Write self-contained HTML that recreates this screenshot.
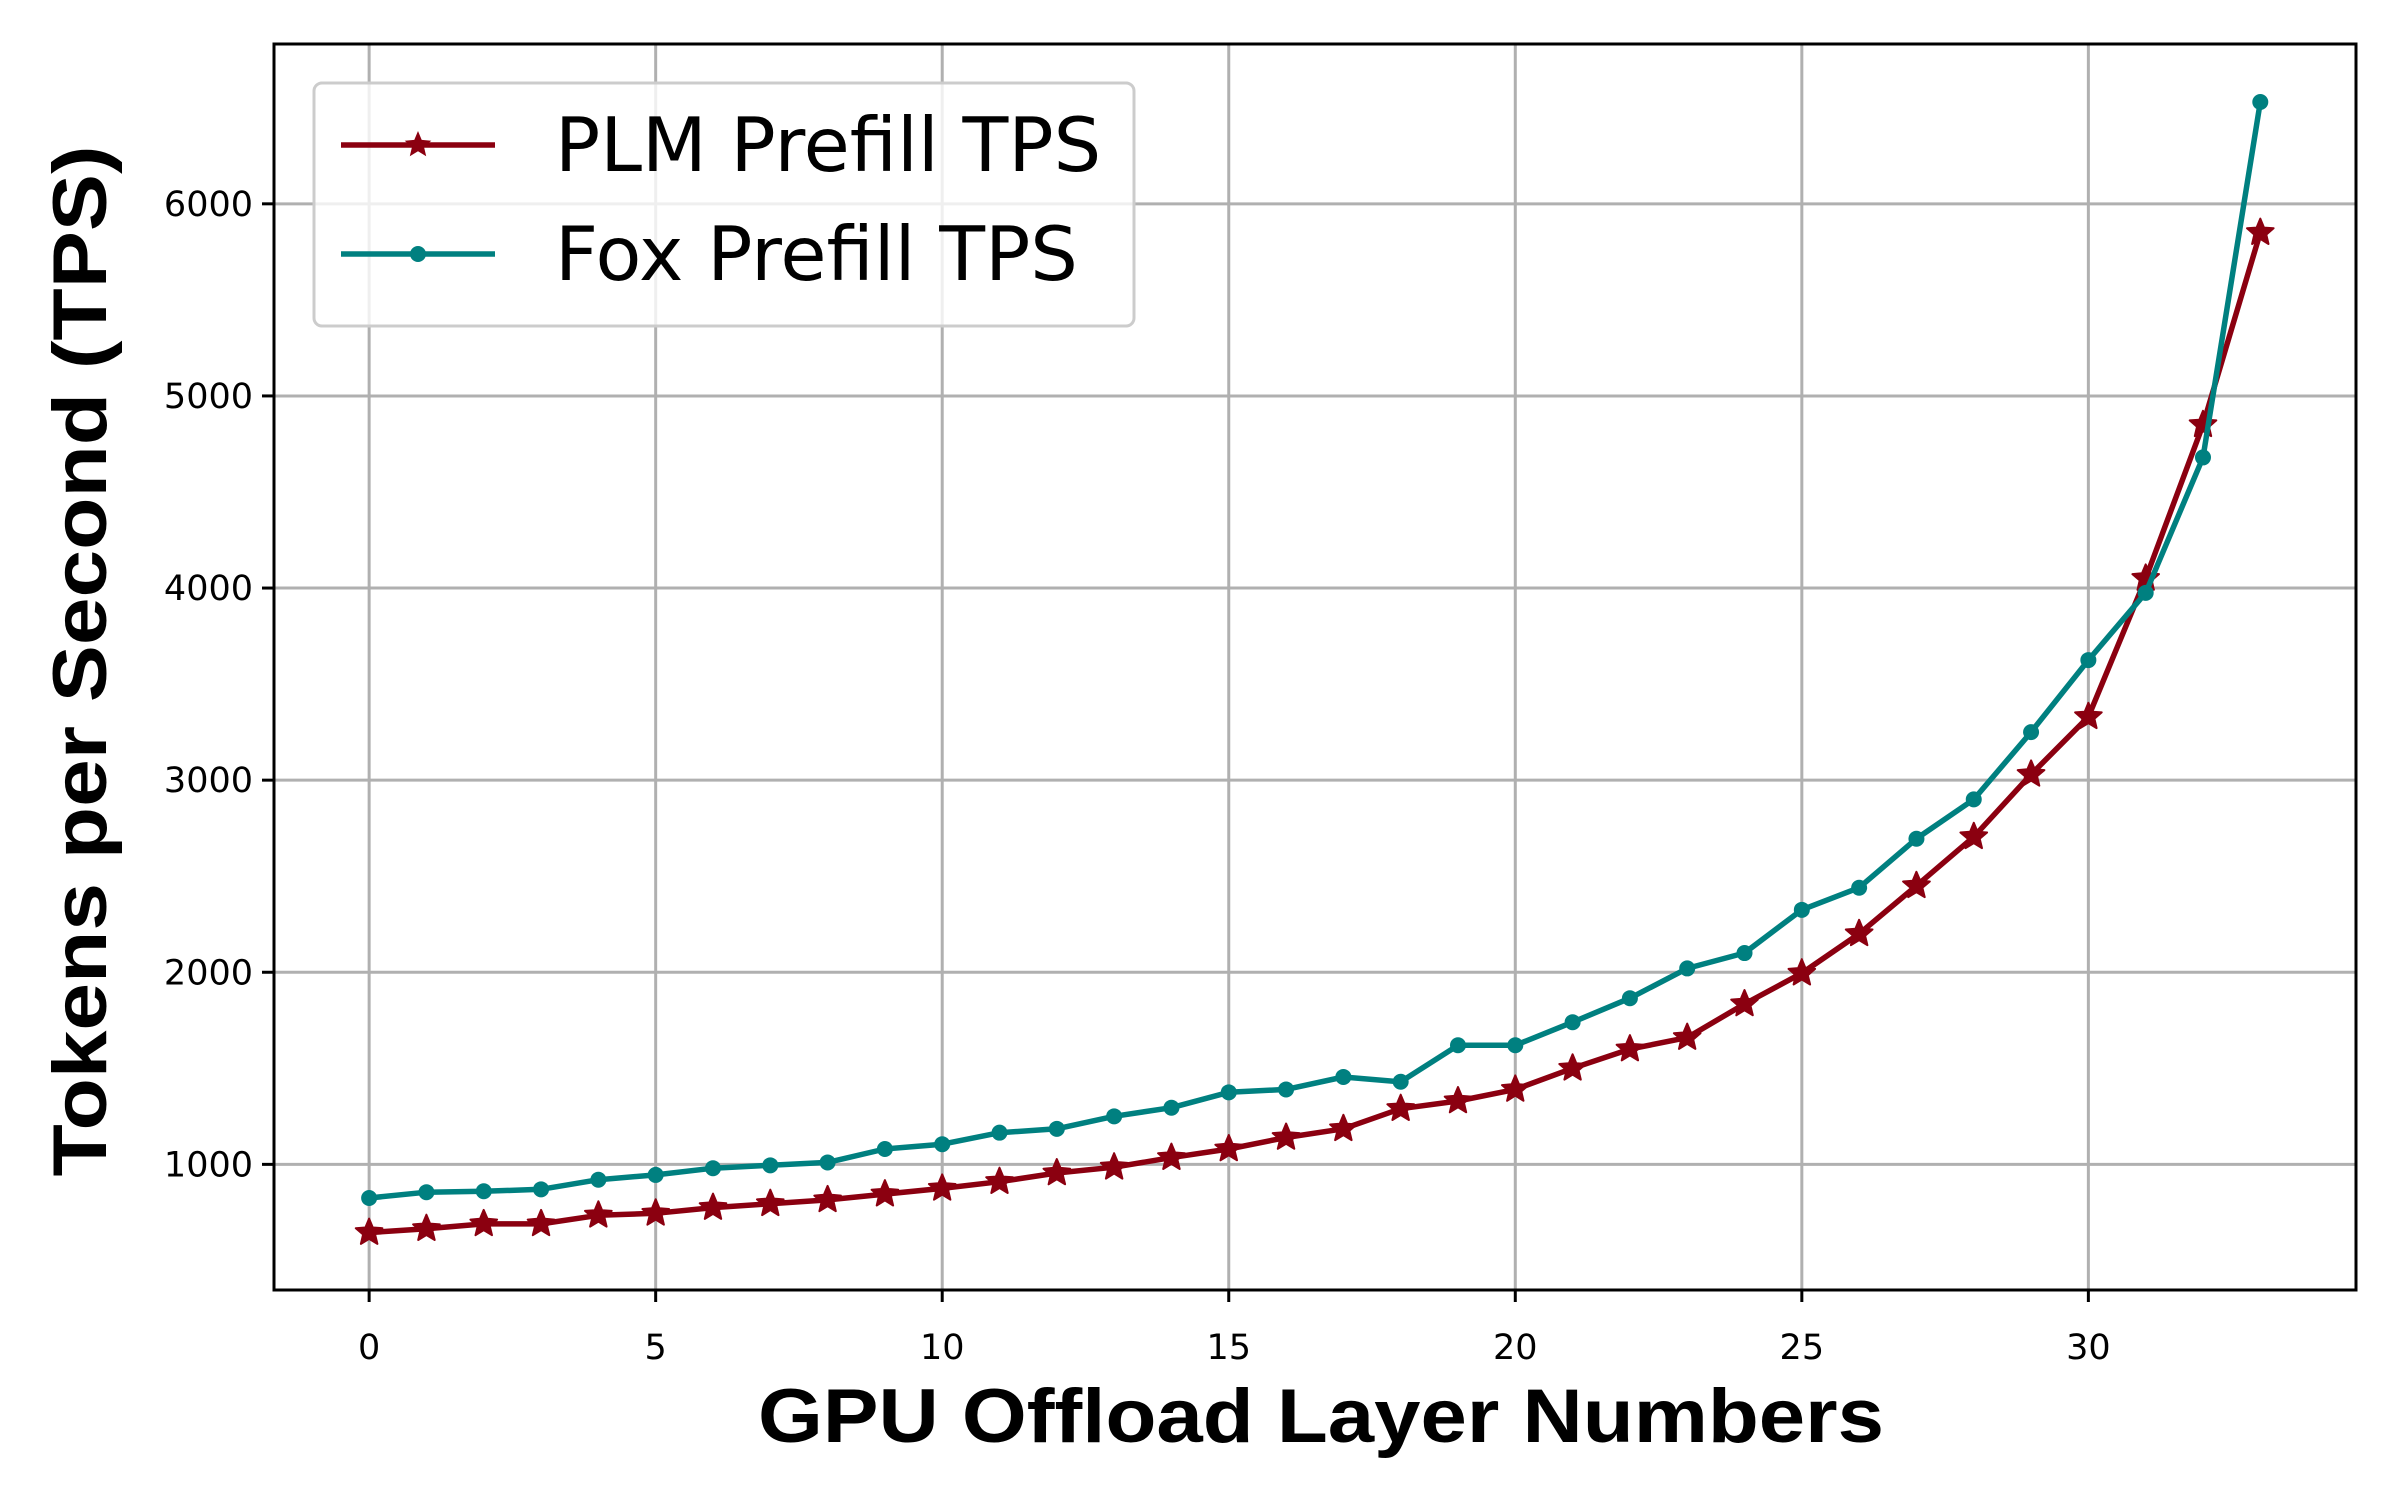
<!DOCTYPE html>
<html><head><meta charset="utf-8"><style>
html,body{margin:0;padding:0;background:#fff;}
svg{display:block;font-family:"DejaVu Sans","Liberation Sans",sans-serif;}
</style></head><body>
<svg id="chart" width="2400" height="1500" viewBox="0 0 2400 1500" xmlns="http://www.w3.org/2000/svg">
<g id="grid"></g>
<g id="series"></g>
<rect x="274" y="44" width="2082" height="1246" fill="none" stroke="#000" stroke-width="3"/>
<g id="ticks"></g>
<text x="1321" y="1442" font-family="Liberation Sans, sans-serif" font-size="76" font-weight="bold" text-anchor="middle" textLength="1126" lengthAdjust="spacingAndGlyphs">GPU Offload Layer Numbers</text>
<text transform="translate(106,661) rotate(-90)" font-family="Liberation Sans, sans-serif" font-size="76" font-weight="bold" text-anchor="middle" textLength="1031" lengthAdjust="spacingAndGlyphs">Tokens per Second (TPS)</text>
<g>
<rect x="314" y="83" width="820" height="243" rx="8" fill="#fff" fill-opacity="0.8" stroke="#ccc" stroke-width="3"/>
<g>
<line x1="341" y1="145" x2="495" y2="145" stroke="#8b0010" stroke-width="5.5"/>
<path d="" id="lgstar" fill="#8b0010"/>
<text x="555" y="171" font-size="75">PLM Prefill TPS</text>
</g>
<g>
<line x1="341" y1="254" x2="495" y2="254" stroke="#008080" stroke-width="5.5"/>
<circle cx="418" cy="254" r="8" fill="#008080"/>
<text x="555" y="280" font-size="75">Fox Prefill TPS</text>
</g>
</g>
</svg>
<script>
const layers = [0,1,2,3,4,5,6,7,8,9,10,11,12,13,14,15,16,17,18,19,20,21,22,23,24,25,26,27,28,29,30,31,32,33];
const plmTps = [645,665,690,690,735,745,775,795,815,845,875,910,955,985,1035,1080,1140,1185,1290,1330,1390,1500,1600,1660,1835,1995,2200,2450,2705,3030,3330,4050,4850,5850];
const foxTps = [825,855,860,870,920,945,980,995,1010,1080,1105,1165,1185,1250,1295,1375,1390,1455,1430,1620,1620,1740,1865,2020,2100,2325,2440,2695,2900,3250,3625,3975,4680,6530];
const xTicks = [0,5,10,15,20,25,30];
const yTicks = [1000,2000,3000,4000,5000,6000];

const L=274,R=2356,T=44,B=1290;
const xMin=-1.66,xMax=34.67,yMin=346,yMax=6832;
const xs=v=>L+(v-xMin)/(xMax-xMin)*(R-L);
const ys=v=>B-(v-yMin)/(yMax-yMin)*(B-T);
const NS="http://www.w3.org/2000/svg";
function mk(tag,attrs,parent){const e=document.createElementNS(NS,tag);for(const k in attrs)e.setAttribute(k,attrs[k]);parent.appendChild(e);return e;}
function starPath(cx,cy,ro){const ri=ro*0.45;let d="";for(let i=0;i<10;i++){const r=i%2?ri:ro;const a=-Math.PI/2+i*Math.PI/5;d+=(i?"L":"M")+(cx+r*Math.cos(a)).toFixed(1)+","+(cy+r*Math.sin(a)).toFixed(1);}return d+"Z";}
const grid=document.getElementById('grid'),ticks=document.getElementById('ticks'),series=document.getElementById('series');
xTicks.forEach(v=>{
  const x=xs(v);
  const g=mk('line',{x1:x,y1:T,x2:x,y2:B,stroke:'#b0b0b0','stroke-width':3},grid);
  
  
  const t=mk('line',{x1:x,y1:B,x2:x,y2:B+12,stroke:'#000','stroke-width':3},ticks);
  
  
  const l=mk('text',{x:x,y:1359,'font-size':35,'text-anchor':'middle'},ticks);
  l.textContent=v;
  
  
});
yTicks.forEach(v=>{
  const y=ys(v);
  const g=mk('line',{x1:L,y1:y,x2:R,y2:y,stroke:'#b0b0b0','stroke-width':3},grid);
  
  
  const t=mk('line',{x1:L-12,y1:y,x2:L,y2:y,stroke:'#000','stroke-width':3},ticks);
  
  
  const l=mk('text',{x:L-21,y:y+12,'font-size':35,'text-anchor':'end'},ticks);
  l.textContent=v;
  
  
});
function drawSeries(vals,color,name,marker){
  const pts=layers.map((x,i)=>xs(x).toFixed(1)+","+ys(vals[i]).toFixed(1)).join(" ");
  const pl=mk('polyline',{points:pts,fill:'none',stroke:color,'stroke-width':5.5,'stroke-linejoin':'round'},series);
  
  
  layers.forEach((x,i)=>{
    let m;
    if(marker==='star') m=mk('path',{d:starPath(xs(x),ys(vals[i]),14),fill:color,stroke:color,'stroke-width':2,'stroke-linejoin':'round'},series);
    else m=mk('circle',{cx:xs(x),cy:ys(vals[i]),r:8,fill:color},series);
    
    
  });
}
drawSeries(plmTps,'#8b0010','plm-prefill','star');
drawSeries(foxTps,'#008080','fox-prefill','circle');
document.getElementById('lgstar').setAttribute('d',starPath(418,145,14));
</script>
</body></html>
